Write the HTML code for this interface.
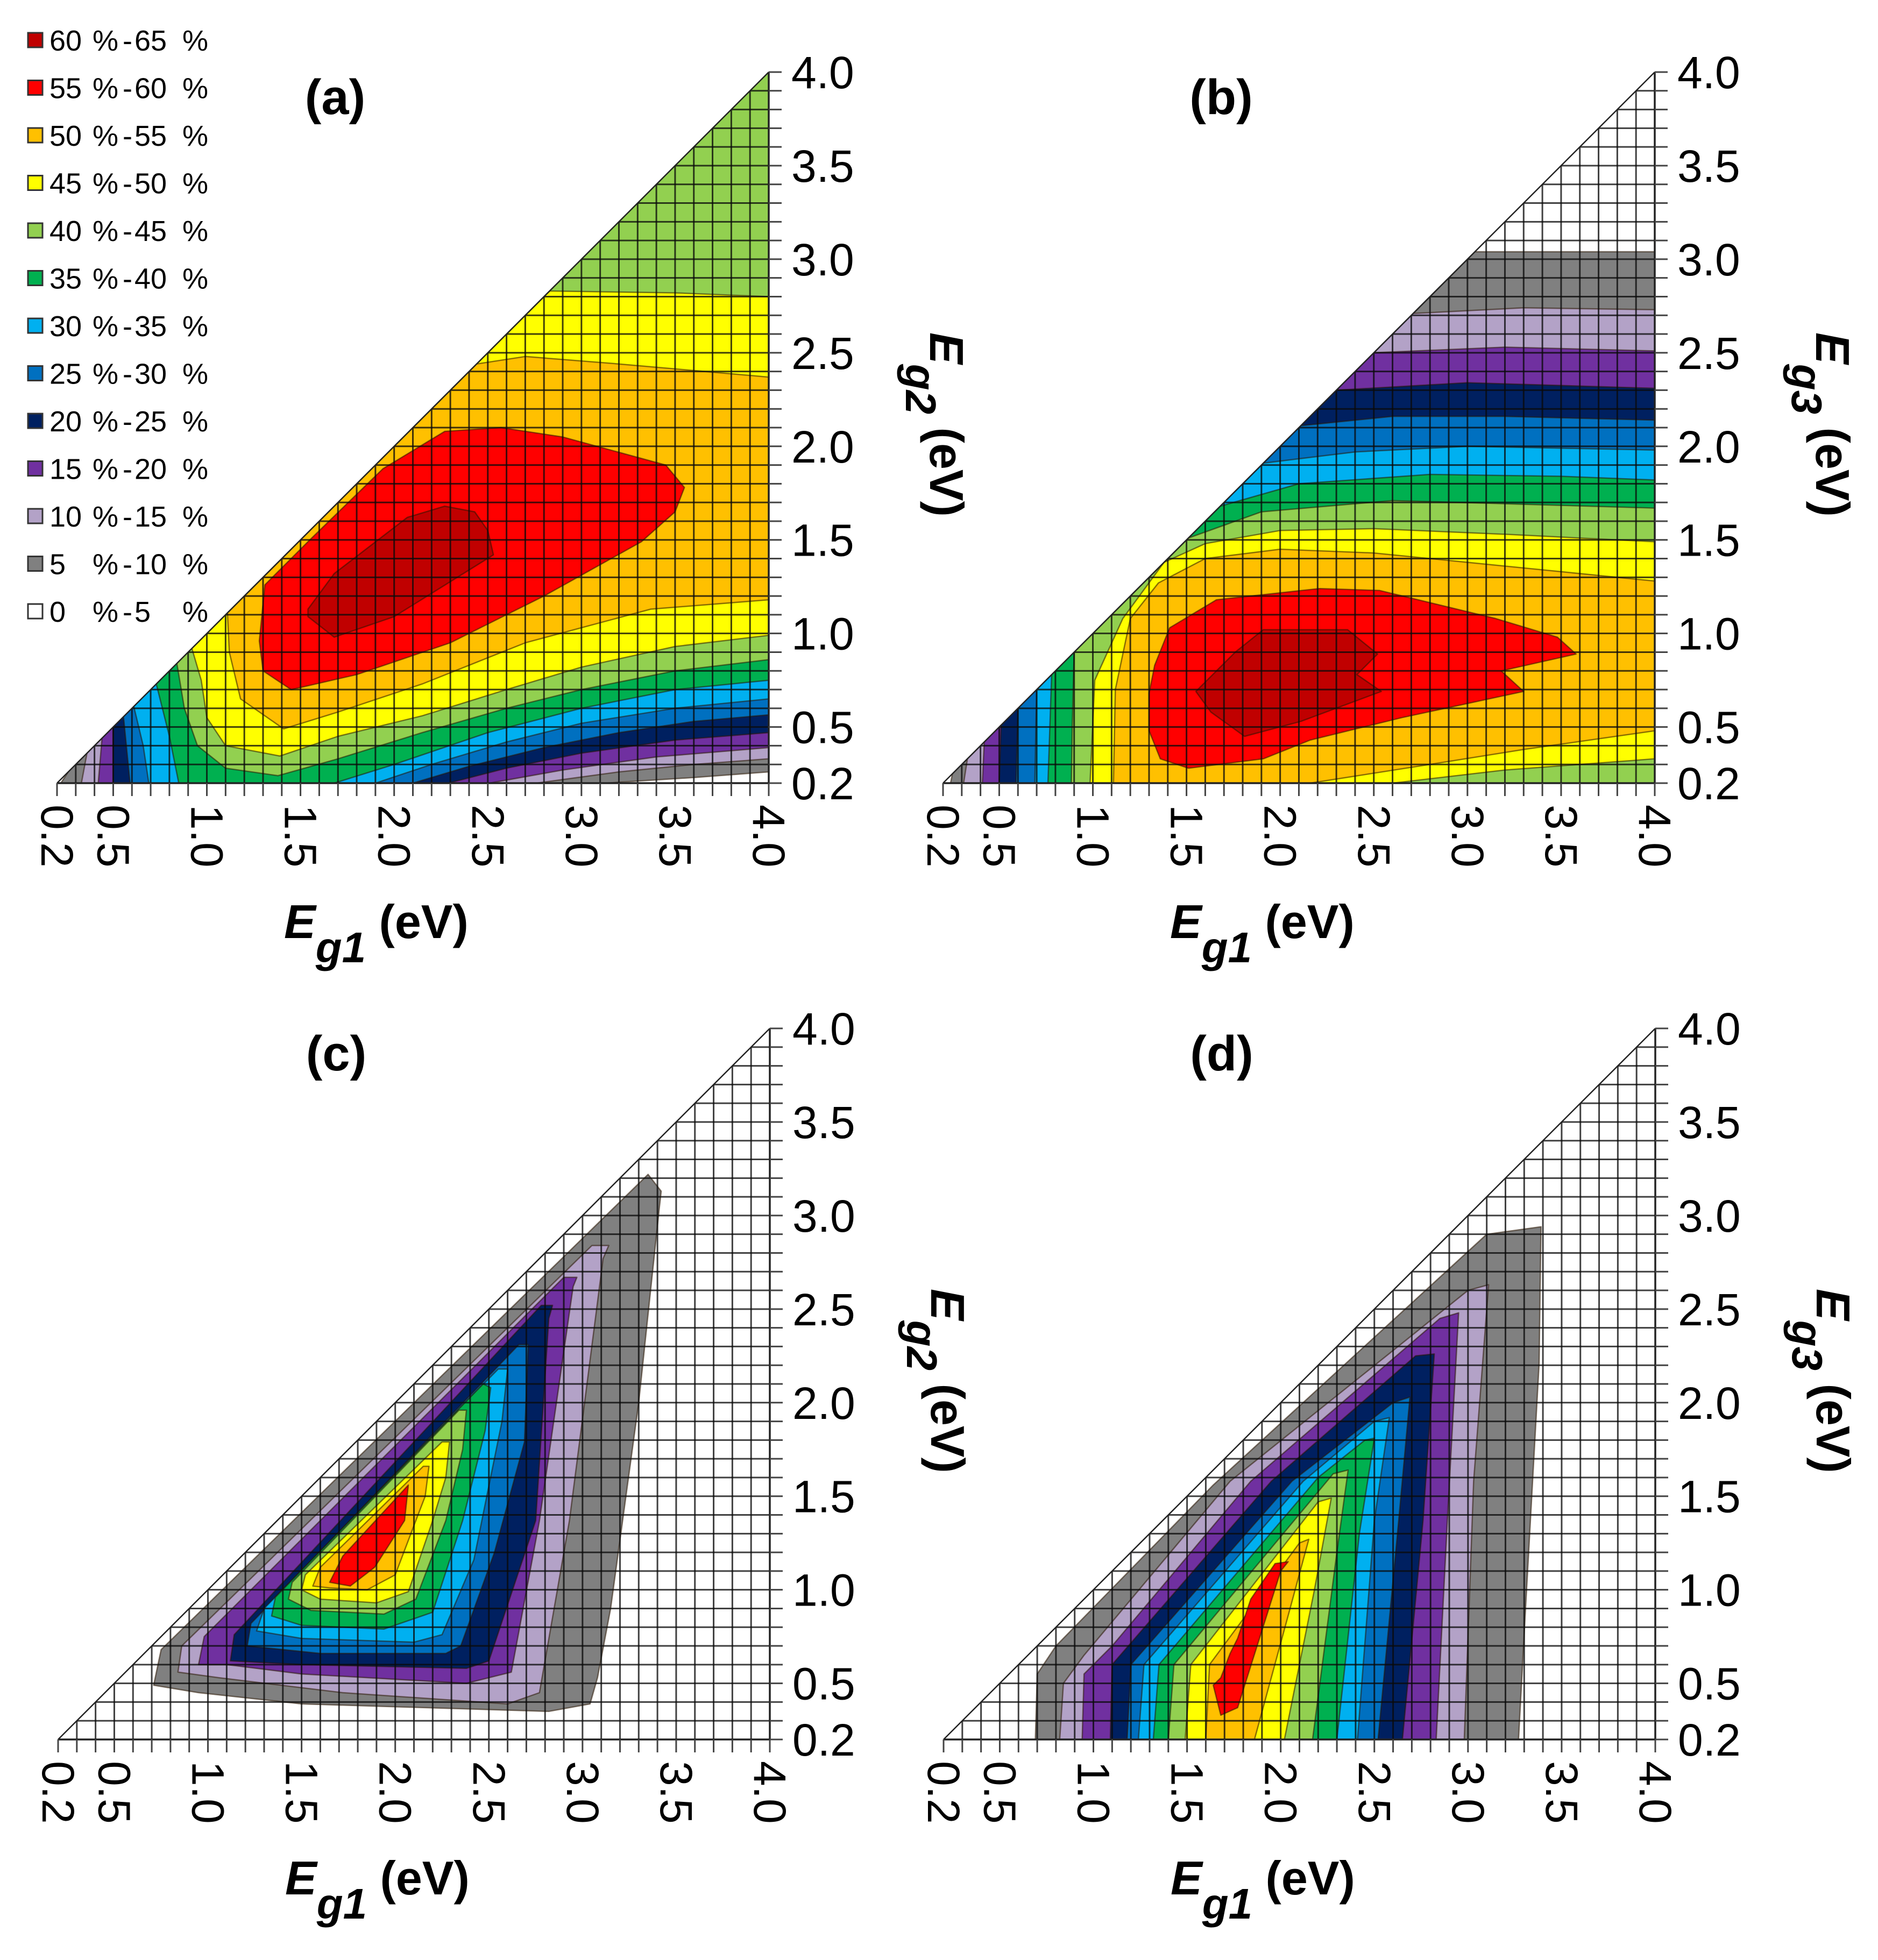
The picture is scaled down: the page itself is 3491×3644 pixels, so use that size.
<!DOCTYPE html>
<html><head><meta charset="utf-8"><title>Efficiency maps</title>
<style>
html,body{margin:0;padding:0;background:#fff}
svg{display:block;font-family:"Liberation Sans",Arial,sans-serif}
</style></head>
<body>
<svg id="fig" width="3491" height="3644" viewBox="0 0 3491 3644" xmlns="http://www.w3.org/2000/svg">
<rect width="3491" height="3644" fill="#fff"/>
</svg>
<script>
// ---------- data ----------
const levelColors = ['#ffffff','#808080','#b3a2c7','#7030a0','#002060','#0070c0','#00b0f0','#00b050','#92d050','#ffff00','#ffc000','#ff0000','#c00000'];
const levelLow = ['0','5','10','15','20','25','30','35','40','45','50','55','60'];
const levelHigh = ['5','10','15','20','25','30','35','40','45','50','55','60','65'];
const xTickValues = [0.2,0.5,1.0,1.5,2.0,2.5,3.0,3.5,4.0];
const yTickValues = [0.2,0.5,1.0,1.5,2.0,2.5,3.0,3.5,4.0];

// superlevel-set polygons in eV coordinates [Eg1, Eg2/Eg3], level index 1..12
const panelALevels = [
 [1,[[0.22,0.2],[3.13,0.2],[3.6,0.23],[4,0.26],[4,4.2],[0.26,4.2],[0.26,0.26]]],
 [2,[[0.33,0.2],[2.76,0.2],[3.2,0.26],[3.6,0.3],[4,0.33],[4,4.2],[0.36,4.2],[0.36,0.36]]],
 [3,[[0.42,0.2],[2.51,0.2],[2.9,0.27],[3.4,0.34],[4,0.39],[4,4.2],[0.44,4.2],[0.44,0.44]]],
 [4,[[0.5,0.2],[2.29,0.2],[2.6,0.28],[3.0,0.36],[3.5,0.43],[4,0.47],[4,4.2],[0.5,4.2],[0.5,0.5]]],
 [5,[[0.59,0.2],[2.1,0.2],[2.4,0.29],[2.8,0.39],[3.2,0.47],[3.6,0.53],[4,0.565],[4,4.2],[0.555,4.2],[0.555,0.555]]],
 [6,[[0.69,0.2],[1.9,0.2],[2.2,0.3],[2.6,0.42],[3.0,0.52],[3.5,0.6],[4,0.65],[4,4.2],[0.61,4.2],[0.61,0.61],[0.66,0.4]]],
 [7,[[0.85,0.2],[1.68,0.2],[2.0,0.3],[2.5,0.47],[3.0,0.6],[3.5,0.7],[4,0.75],[4,4.2],[0.73,4.2],[0.73,0.73],[0.8,0.45]]],
 [8,[[1.38,0.24],[1.7,0.33],[2.15,0.47],[2.6,0.6],[3.0,0.7],[3.5,0.8],[4,0.86],[4,4.2],[0.84,4.2],[0.84,0.84],[0.88,0.6],[0.95,0.4],[1.1,0.28]]],
 [9,[[1.39,0.345],[1.7,0.45],[2.15,0.56],[2.6,0.7],[3.0,0.82],[3.5,0.93],[4,0.99],[4,2.8],[3.5,2.82],[2.83,2.83],[0.92,0.92],[0.97,0.75],[1.0,0.55],[1.1,0.4]]],
 [10,[[1.41,0.49],[1.7,0.58],[2.15,0.73],[2.7,0.95],[3.37,1.13],[4,1.18],[4,2.37],[3.2,2.44],[2.7,2.48],[2.44,2.44],[1.11,1.11],[1.12,0.9],[1.18,0.65]]],
 [11,[[1.28,0.96],[1.3,0.8],[1.45,0.7],[1.8,0.78],[2.3,0.95],[2.8,1.2],[3.32,1.49],[3.5,1.65],[3.55,1.78],[3.45,1.9],[2.9,2.05],[2.57,2.1],[2.27,2.08],[1.94,1.88],[1.55,1.5],[1.31,1.26]]],
 [12,[[1.54,1.09],[1.68,0.98],[2.0,1.09],[2.53,1.42],[2.5,1.55],[2.43,1.65],[2.27,1.68],[2.07,1.62],[1.68,1.32],[1.54,1.13]]]
];
const panelBLevels = [
 [1,[[0.24,0.2],[4,0.2],[4,3.04],[3.04,3.04],[0.25,0.25]]],
 [2,[[0.31,0.2],[4,0.2],[4,2.73],[3.3,2.74],[2.71,2.71],[0.33,0.33]]],
 [3,[[0.41,0.2],[4,0.2],[4,2.51],[3.2,2.53],[2.5,2.5],[0.42,0.42]]],
 [4,[[0.5,0.2],[4,0.2],[4,2.31],[3.0,2.34],[2.3,2.3],[0.51,0.51]]],
 [5,[[0.59,0.2],[4,0.2],[4,2.14],[3.2,2.16],[2.6,2.16],[2.11,2.11],[0.6,0.6]]],
 [6,[[0.69,0.2],[4,0.2],[4,1.98],[3.5,1.99],[3.0,2.0],[2.4,1.97],[1.91,1.91],[0.7,0.7]]],
 [7,[[0.76,0.2],[4,0.2],[4,1.82],[3.5,1.84],[2.8,1.85],[2.1,1.8],[1.68,1.68],[0.78,0.78]]],
 [8,[[0.885,0.2],[4,0.2],[4,1.67],[3.3,1.69],[2.6,1.71],[1.9,1.65],[1.51,1.51],[0.9,0.9],[0.89,0.5]]],
 [9,[[0.985,0.2],[2.6,0.2],[3.2,0.27],[4,0.33],[4,1.49],[3.2,1.53],[2.5,1.56],[2.0,1.55],[1.6,1.48],[1.38,1.38],[1.16,1.08],[1.01,0.75]]],
 [10,[[1.11,0.2],[2.16,0.2],[2.8,0.3],[3.3,0.38],[4,0.48],[4,1.28],[3.5,1.33],[3.0,1.38],[2.5,1.43],[2.0,1.45],[1.6,1.4],[1.35,1.27],[1.2,1.08],[1.12,0.7]]],
 [11,[[1.3,0.68],[1.33,0.83],[1.41,1.03],[1.66,1.18],[2.21,1.24],[2.53,1.23],[3.15,1.08],[3.48,0.98],[3.58,0.89],[3.18,0.8],[3.3,0.69],[2.65,0.55],[2.16,0.43],[1.91,0.33],[1.51,0.28],[1.36,0.33],[1.3,0.48]]],
 [12,[[1.55,0.69],[1.76,0.9],[1.91,1.02],[2.36,1.02],[2.52,0.89],[2.41,0.78],[2.54,0.69],[2.11,0.53],[1.81,0.45],[1.63,0.58]]]
];
const panelCLevels = [
 [1,[[0.71,0.49],[0.75,0.68],[3.35,3.22],[3.42,3.13],[3.41,3.04],[3.3,2.0],[3.15,0.9],[3.08,0.53],[3.04,0.39],[2.82,0.35],[2.16,0.37],[1.5,0.39],[0.95,0.45]]],
 [2,[[0.84,0.56],[0.86,0.7],[3.05,2.84],[3.14,2.84],[3.11,2.77],[2.93,1.37],[2.77,0.45],[2.6,0.39],[1.72,0.45],[1.06,0.53]]],
 [3,[[0.95,0.6],[0.98,0.75],[2.9,2.67],[2.97,2.67],[2.95,2.62],[2.77,1.37],[2.62,0.56],[2.38,0.5],[1.5,0.55],[1.1,0.6]]],
 [4,[[1.12,0.62],[1.14,0.76],[2.78,2.52],[2.84,2.52],[2.82,2.45],[2.75,1.37],[2.5,0.62],[2.38,0.58],[1.5,0.6]]],
 [5,[[1.21,0.7],[1.23,0.82],[2.66,2.31],[2.71,2.31],[2.69,1.79],[2.53,1.2],[2.35,0.7],[2.27,0.66],[1.6,0.66]]],
 [6,[[1.26,0.78],[1.3,0.9],[2.55,2.18],[2.6,2.18],[2.57,1.9],[2.42,1.16],[2.25,0.76],[2.1,0.72],[1.5,0.74]]],
 [7,[[1.34,0.86],[1.36,0.96],[2.47,2.1],[2.51,2.08],[2.48,1.85],[2.36,1.37],[2.2,0.88],[1.94,0.79],[1.5,0.81]]],
 [8,[[1.43,0.95],[1.45,1.04],[2.34,1.96],[2.38,1.96],[2.36,1.75],[2.27,1.37],[2.11,0.95],[1.94,0.87],[1.55,0.89]]],
 [9,[[1.5,1.0],[1.52,1.08],[2.25,1.79],[2.29,1.79],[2.27,1.6],[2.2,1.37],[2.07,0.99],[1.9,0.93],[1.6,0.95]]],
 [10,[[1.56,1.02],[1.6,1.12],[2.15,1.66],[2.18,1.66],[2.16,1.5],[2.11,1.37],[2.0,1.08],[1.85,1.0],[1.65,1.01]]],
 [11,[[1.65,1.04],[1.72,1.18],[2.07,1.56],[2.05,1.37],[1.89,1.12],[1.76,1.02]]]
];
const panelDLevels = [
 [1,[[0.69,0.2],[0.7,0.55],[0.8,0.7],[1.64,1.56],[3.1,2.9],[3.39,2.94],[3.38,2.21],[3.31,0.95],[3.27,0.2]]],
 [2,[[0.82,0.2],[0.84,0.5],[0.95,0.65],[1.73,1.58],[3.0,2.6],[3.11,2.63],[3.1,2.5],[3.03,1.58],[2.98,0.2]]],
 [3,[[0.94,0.2],[0.95,0.55],[1.1,0.7],[1.84,1.58],[2.85,2.45],[2.95,2.48],[2.89,1.37],[2.83,0.2]]],
 [4,[[1.09,0.2],[1.1,0.6],[1.95,1.58],[2.72,2.25],[2.82,2.26],[2.76,1.37],[2.65,0.2]]],
 [5,[[1.18,0.2],[1.2,0.6],[2.06,1.58],[2.6,2.0],[2.69,2.03],[2.63,1.37],[2.52,0.2]]],
 [6,[[1.24,0.2],[1.27,0.6],[2.12,1.58],[2.5,1.9],[2.58,1.92],[2.5,1.37],[2.41,0.2]]],
 [7,[[1.32,0.2],[1.35,0.6],[2.2,1.6],[2.45,1.8],[2.5,1.81],[2.42,1.3],[2.3,0.2]]],
 [8,[[1.4,0.2],[1.43,0.6],[2.28,1.62],[2.36,1.64],[2.3,1.2],[2.17,0.2]]],
 [9,[[1.49,0.2],[1.52,0.6],[2.2,1.47],[2.27,1.49],[2.18,1.0],[2.02,0.2]]],
 [10,[[1.6,0.2],[1.62,0.6],[2.1,1.25],[2.15,1.27],[2.05,0.9],[1.86,0.2]]],
 [11,[[1.64,0.49],[1.68,0.33],[1.77,0.37],[2.0,1.1],[2.04,1.15],[1.97,1.14],[1.84,0.95],[1.77,0.74],[1.73,0.66],[1.68,0.53]]]
];

// ---------- layout ----------
const NS = 'http://www.w3.org/2000/svg';
const svg = document.getElementById('fig');
const panels = [
 {id:'a', X0:106,  X1:1429, Y0:1456, Y1:134,  yt:'g2', levels:panelALevels},
 {id:'b', X0:1753, X1:3076, Y0:1456, Y1:134,  yt:'g3', levels:panelBLevels},
 {id:'c', X0:108,  X1:1431, Y0:3234, Y1:1912, yt:'g2', levels:panelCLevels},
 {id:'d', X0:1754, X1:3077, Y0:3234, Y1:1912, yt:'g3', levels:panelDLevels}
];
function el(tag, attrs, parent){
  const e = document.createElementNS(NS, tag);
  for (const k in attrs) e.setAttribute(k, attrs[k]);
  (parent||svg).appendChild(e);
  return e;
}
function sx(p,v){ return p.X0 + (v-0.2)*(p.X1-p.X0)/3.8; }
function sy(p,v){ return p.Y0 - (v-0.2)*(p.Y0-p.Y1)/3.8; }
const defs = el('defs',{});

panels.forEach(p=>{
  const g = el('g',{});
  
  
  const cp = el('clipPath',{id:'clip-'+p.id}, defs);
  el('polygon',{points:`${sx(p,0.2)},${sy(p,0.2)} ${sx(p,4)},${sy(p,0.2)} ${sx(p,4)},${sy(p,4)}`}, cp);
  const plot = el('g',{'clip-path':'url(#clip-'+p.id+')'}, g);
  
  
  el('rect',{x:p.X0,y:p.Y1,width:p.X1-p.X0,height:p.Y0-p.Y1,fill:'#fff'}, plot);
  p.levels.forEach(([lv, pts])=>{
    const poly = el('polygon',{points: pts.map(q=>sx(p,q[0]).toFixed(1)+','+sy(p,q[1]).toFixed(1)).join(' '),
      fill: levelColors[lv], stroke:'rgba(40,20,0,0.55)', 'stroke-width':2.5, 'stroke-linejoin':'round'}, plot);
    
    
  });
  // grid
  const grid = el('g',{stroke:'rgba(10,10,10,0.78)','stroke-width':3}, plot);
  
  
  for (let k=3;k<=39;k++){
    const v = k/10;
    el('line',{x1:sx(p,v),y1:sy(p,0.2),x2:sx(p,v),y2:sy(p,v)}, grid);
    el('line',{x1:sx(p,v),y1:sy(p,v),x2:sx(p,4),y2:sy(p,v)}, grid);
  }
  // axes lines
  const axes = el('g',{stroke:'#222','stroke-width':3.5,fill:'none'}, g);
  
  
  el('line',{x1:sx(p,0.2),y1:sy(p,0.2),x2:sx(p,4),y2:sy(p,0.2)}, axes);
  el('line',{x1:sx(p,4),y1:sy(p,0.2),x2:sx(p,4),y2:sy(p,4)}, axes);
  el('line',{x1:sx(p,0.2),y1:sy(p,0.2),x2:sx(p,4),y2:sy(p,4),'stroke-width':2.5}, axes);
  // ticks every 0.1
  const ticks = el('g',{stroke:'#444','stroke-width':3}, g);
  
  
  for (let k=2;k<=40;k++){
    const v=k/10;
    el('line',{x1:sx(p,4),y1:sy(p,v),x2:sx(p,4)+24,y2:sy(p,v)}, ticks);
    el('line',{x1:sx(p,v),y1:sy(p,0.2),x2:sx(p,v),y2:sy(p,0.2)+24}, ticks);
  }
  // right tick labels
  yTickValues.forEach(v=>{
    const t = el('text',{x:sx(p,4)+42,y:sy(p,v)+30,'font-size':84,fill:'#000'}, g);
    t.textContent = v.toFixed(1);
    
    
  });
  // bottom tick labels (rotated)
  xTickValues.forEach(v=>{
    const x = sx(p,v), y = sy(p,0.2)+40;
    const t = el('text',{x:0,y:0,'font-size':84,fill:'#000','dominant-baseline':'central',
      transform:`translate(${x},${y}) rotate(90)`}, g);
    t.textContent = v.toFixed(1);
    
    
  });
  // x title
  const xt = el('text',{x:p.X0+422,y:p.Y0+288,'font-size':88,'font-weight':'bold',fill:'#000'}, g);
  
  
  xt.innerHTML = '<tspan font-style="italic">E</tspan><tspan font-style="italic" dy="45" font-size="80">g1</tspan><tspan dy="-45"> (eV)</tspan>';
  // y title
  const yt = el('text',{x:0,y:0,'font-size':88,'font-weight':'bold',fill:'#000',
     transform:`translate(${p.X1+300},${p.Y1+484}) rotate(90)`}, g);
  
  
  yt.innerHTML = '<tspan font-style="italic">E</tspan><tspan font-style="italic" dy="45" font-size="80">'+p.yt+'</tspan><tspan dy="-45"> (eV)</tspan>';
  // panel label
  const pl = el('text',{x:p.X0+517,y:p.Y1+78,'font-size':92,'font-weight':'bold','text-anchor':'middle',fill:'#000'}, g);
  pl.textContent = '('+p.id+')';
  
  
});

// legend
const leg = el('g',{'font-size':54,fill:'#000'});


for (let i=0;i<13;i++){
  const lv = 12-i;
  const cy = 75 + i*88.5;
  const entry = el('g',{}, leg);
  
  
  el('rect',{x:52,y:cy-14,width:27,height:27,fill:levelColors[lv],stroke:'#333','stroke-width':3}, entry);
  const parts = [[92,levelLow[lv]],[172,'%'],[228,'-'],[250,levelHigh[lv]],[339,'%']];
  parts.forEach(([x,s])=>{
    const t = el('text',{x:x,y:cy+19}, entry);
    t.textContent = s;
  });
}
</script>
</body></html>
